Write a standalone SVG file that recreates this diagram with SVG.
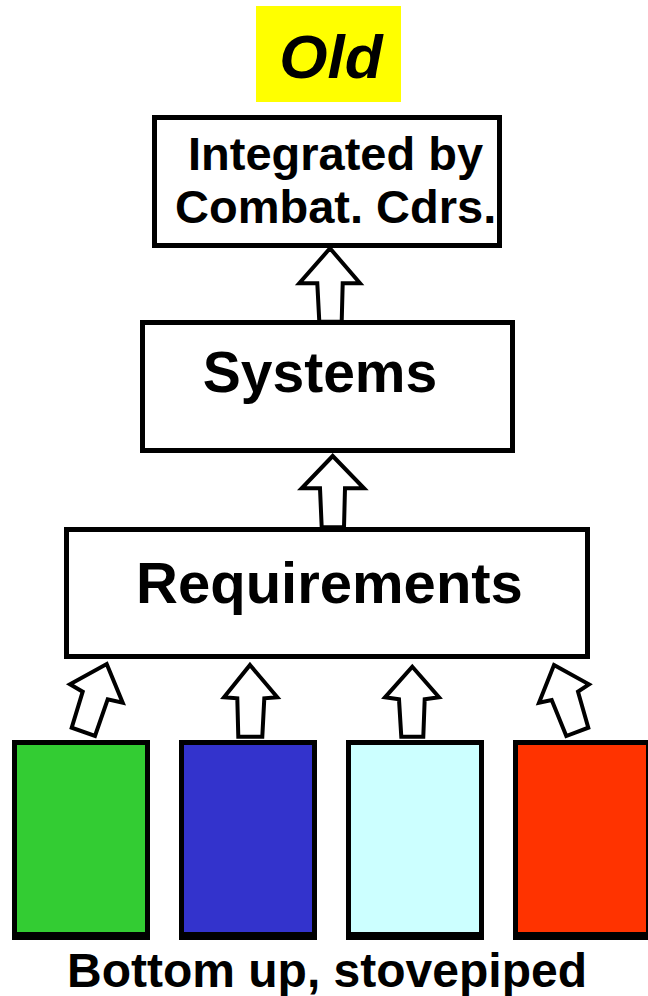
<svg xmlns="http://www.w3.org/2000/svg" width="648" height="996" viewBox="0 0 648 996">
<style>
.box{fill:#fff;stroke:#000;stroke-width:5}
.col{stroke:#000;stroke-width:5}
.t{font-family:"Liberation Sans",Arial,sans-serif;font-weight:bold;fill:#000}
.arr{fill:#fff;stroke:#000;stroke-width:4;stroke-linejoin:miter}
</style>
<rect width="648" height="996" fill="#fff"/>
<g id="title">
<rect x="256" y="6" width="145" height="96" fill="#ffff00"/>
<text class="t" x="331" y="78" font-size="62" font-style="italic" text-anchor="middle">Old</text>
</g>
<g id="integrated">
<rect class="box" x="154.5" y="117.5" width="345" height="128"/>
<text class="t" x="188" y="170" font-size="47">Integrated by</text>
<text class="t" x="175" y="223" font-size="47">Combat. Cdrs.</text>
</g>
<g id="systems">
<rect class="box" x="142.5" y="322.5" width="370" height="128"/>
<text class="t" x="320" y="392" font-size="57" text-anchor="middle">Systems</text>
</g>
<g id="requirements">
<rect class="box" x="66.5" y="529.5" width="521" height="127"/>
<text class="t" x="329.5" y="603" font-size="58" text-anchor="middle">Requirements</text>
</g>
<g id="green">
<rect class="col" x="14.5" y="742.5" width="133" height="192" fill="#33cc33"/>
<rect x="12" y="932" width="138" height="8" fill="#000"/>
</g>
<g id="blue">
<rect class="col" x="181.5" y="742.5" width="133" height="192" fill="#3333cc"/>
<rect x="179" y="932" width="138" height="8" fill="#000"/>
</g>
<g id="cyan">
<rect class="col" x="348.5" y="742.5" width="133" height="192" fill="#ccffff"/>
<rect x="346" y="932" width="138" height="8" fill="#000"/>
</g>
<g id="red">
<rect class="col" x="515.5" y="742.5" width="133" height="192" fill="#ff3300"/>
<rect x="513" y="932" width="138" height="8" fill="#000"/>
</g>
<g id="caption">
<text class="t" x="327" y="987" font-size="48" text-anchor="middle">Bottom up, stovepiped</text>
</g>
<g id="connectors">
<polygon class="arr" points="330,248.3 360,283.3 342.7,283.3 341.7,321.7 319.3,321.7 317.3,283.3 299.3,283.3"/>
<polygon class="arr" points="332.7,456 364,488.3 345,488.3 344,527.3 321.7,527.3 320,488.3 301.7,488.3"/>
<polygon class="arr" points="106.7,664 122.7,702.7 107.7,699.3 95,736 71.7,727.7 82.7,691.7 70,684.3"/>
<polygon class="arr" points="250,665 277.3,697.3 264.3,698.3 262.3,736.7 238.3,736.7 237.3,698.3 224,697.3"/>
<polygon class="arr" points="412.3,666.7 439,697.3 424.7,699.3 423.3,736.7 401.3,736.7 399,699.3 385,697.3"/>
<polygon class="arr" points="554,665 589,684.3 578,691.7 588.3,727.7 566.3,736 551.7,700 539,702.7"/>
</g>
</svg>
